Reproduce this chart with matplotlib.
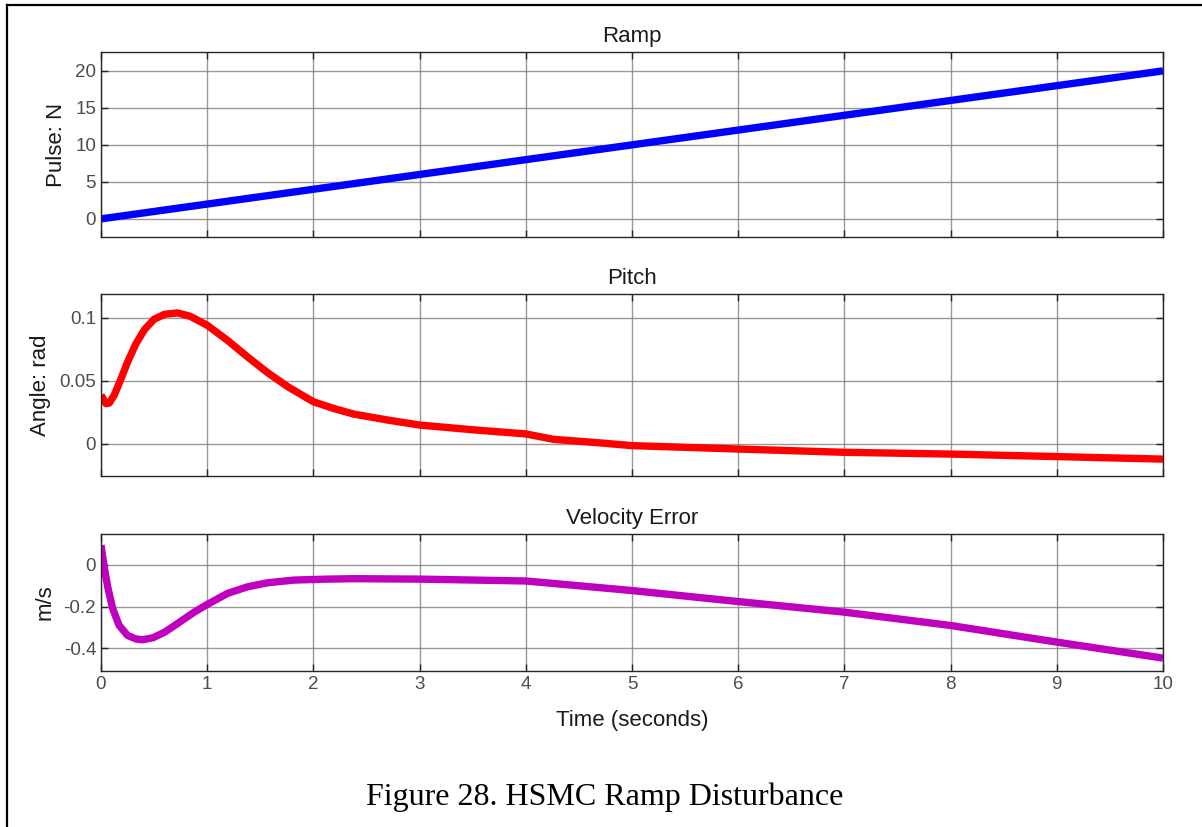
import matplotlib.pyplot as plt
import matplotlib as mpl
from matplotlib.lines import Line2D

mpl.rcParams.update({
    "font.family": ["Liberation Sans", "DejaVu Sans"],
    "axes.unicode_minus": False,
})

# ramp disturbance input
t_ramp = [0, 2, 4, 6, 8, 10]
ramp = [0, 4, 8, 12, 16, 20]

# pitch response (rad)
t_pitch = [0, 0.047, 0.078, 0.125, 0.19, 0.25, 0.33, 0.41, 0.50, 0.60, 0.72,
           0.84, 1.0, 1.19, 1.38, 1.57, 1.76, 2.0, 2.19, 2.38, 2.7, 3.0, 3.54,
           4.0, 4.26, 4.68, 5.0, 6.0, 7.0, 8.0, 9.0, 10.0]
pitch = [0.0388, 0.032, 0.0325, 0.0388, 0.052, 0.065, 0.0797, 0.0908, 0.099,
         0.1029, 0.104, 0.1013, 0.0942, 0.0823, 0.0691, 0.0565, 0.0454, 0.0335,
         0.0282, 0.0237, 0.019, 0.015, 0.011, 0.008, 0.0037, 0.001, -0.0013,
         -0.004, -0.0066, -0.008, -0.010, -0.012]

# velocity error (m/s)
t_vel = [0, 0.03, 0.063, 0.11, 0.17, 0.25, 0.33, 0.39, 0.49, 0.60, 0.72, 0.88,
         1.0, 1.19, 1.38, 1.57, 1.82, 2.13, 2.38, 3.0, 4.0, 4.5, 5.0, 6.0, 7.0,
         8.0, 9.0, 10.0]
vel = [0.095, -0.008, -0.105, -0.21, -0.29, -0.339, -0.356, -0.36, -0.35,
       -0.323, -0.282, -0.226, -0.19, -0.137, -0.105, -0.0855, -0.0726, -0.068,
       -0.066, -0.068, -0.077, -0.1, -0.123, -0.176, -0.227, -0.291, -0.371,
       -0.448]

W, H = 1202, 827
fig = plt.figure(figsize=(W / 100, H / 100), dpi=100)

def box(left, top, right, bottom):
    return [left / W, 1 - bottom / H, (right - left) / W, (bottom - top) / H]

ax1 = fig.add_axes(box(101, 52, 1163, 237))
ax2 = fig.add_axes(box(101, 294, 1163, 476))
ax3 = fig.add_axes(box(101, 534, 1163, 671))

line_kw = dict(lw=5.3, solid_capstyle="butt", solid_joinstyle="round")
ax1.plot(t_ramp, ramp, color=(0, 0, 1), **line_kw)
ax2.plot(t_pitch, pitch, color=(1, 0, 0), **line_kw)
ax3.plot(t_vel, vel, color=(0.75, 0, 0.75), **line_kw)

ax1.set_ylim(-2.45, 22.55)
ax1.set_yticks([0, 5, 10, 15, 20])
ax2.set_ylim(-0.0254, 0.119)
ax2.set_yticks([0, 0.05, 0.1])
ax2.set_yticklabels(["0", "0.05", "0.1"])
ax3.set_ylim(-0.51, 0.149)
ax3.set_yticks([-0.4, -0.2, 0])
ax3.set_yticklabels(["-0.4", "-0.2", "0"])

dark = (0.15, 0.15, 0.15)
for ax, title, ylab in [(ax1, "Ramp", "Pulse: N"),
                        (ax2, "Pitch", "Angle: rad"),
                        (ax3, "Velocity Error", "m/s")]:
    ax.set_xlim(0, 10)
    ax.set_xticks(range(11))
    ax.grid(True, color=(0.5, 0.5, 0.5), lw=1.0, alpha=0.8)
    ax.set_axisbelow(True)
    ax.tick_params(direction="in", top=True, right=True, length=5,
                   width=1.0, colors=dark, labelsize=13.5, labelcolor=(0.3, 0.3, 0.3))
    for s in ax.spines.values():
        s.set_color(dark)
        s.set_linewidth(1.0)
    ax.set_title(title, fontsize=16, color=(0.1, 0.1, 0.1), pad=7)
    ax.set_ylabel(ylab, fontsize=16, color=(0.1, 0.1, 0.1), labelpad=6)

ax1.tick_params(labelbottom=False)
ax2.tick_params(labelbottom=False)
ax3.set_xlabel("Time (seconds)", fontsize=16, color=(0.1, 0.1, 0.1), labelpad=12)

fig.text(605 / W, 1 - 797 / H, "Figure 28. HSMC Ramp Disturbance",
         family="Liberation Serif", fontsize=23, ha="center", va="center")

# page frame, open at the right and bottom
fig.add_artist(Line2D([7 / W, 7 / W], [0, 1 - 5 / H], color="black", lw=1.6,
                      transform=fig.transFigure))
fig.add_artist(Line2D([7 / W, 1], [1 - 5 / H, 1 - 5 / H], color="black", lw=1.6,
                      transform=fig.transFigure))

fig.savefig("out.png", dpi=100)
